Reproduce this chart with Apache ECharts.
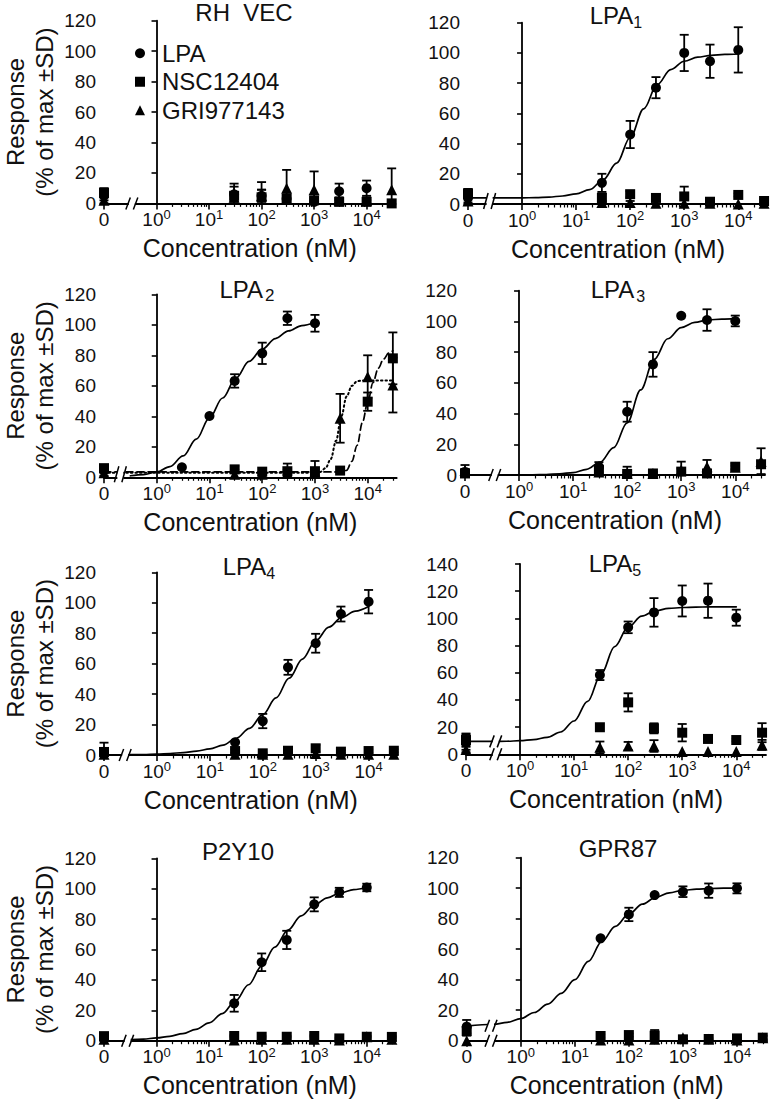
<!DOCTYPE html>
<html><head><meta charset="utf-8">
<script src="https://cdn.jsdelivr.net/npm/echarts@6/dist/echarts.min.js"></script>
<style>html,body{margin:0;padding:0;background:#fff}#c{width:775px;height:1099px}</style>
</head><body><div id="c"></div>
<script>
// ---------- DATA ----------
// concentrations (nM); 0 = vehicle point, drawn left of the axis break
const CONC_LPA = [0, 30, 100, 300, 1000, 3000, 10000];
const CONC_LPA_LPA2 = [0, 3, 10, 30, 100, 300, 1000];
const CONC_ANT = [0, 30, 100, 300, 1000, 3000, 10000, 30000];
const X_TICK_EXP = [0, 1, 2, 3, 4];          // 10^0 ... 10^4
const SERIES_NAMES = ['LPA', 'NSC12404', 'GRI977143'];
const PANEL_TITLES = ['RH  VEC', 'LPA1', 'LPA2', 'LPA3', 'LPA4', 'LPA5', 'P2Y10', 'GPR87'];
const Y_MAX = [120, 120, 120, 120, 120, 140, 120, 120];

const RHVEC_LPA = [5, 6, 5, 3, 1, 8, 10];
const RHVEC_LPA_SD = [3, 7, 9, 3, 2, 5, 5];
const RHVEC_NSC = [7, 5, 4, 3, 2, 1, 1, 0];
const RHVEC_NSC_SD = [3, 6, 5, 2, 2, 1, 1, 0];
const RHVEC_GRI = [2, 4, 5, 10, 9, 2, 2, 9];
const RHVEC_GRI_SD = [2, 3, 4, 12, 12, 2, 2, 14];

const LPA1_LPA = [4, 14, 46, 77, 100, 94.5, 102];
const LPA1_LPA_SD = [3, 6, 9, 7, 12, 11, 15];
const LPA1_NSC = [7, 4, 6.5, 4, 5, 1.5, 6, 2];
const LPA1_NSC_SD = [3, 3, 2, 2, 6.5, 0.5, 1, 1];
const LPA1_GRI = [2, 1, 1, 0.5, 0.5, 0.5, 0, 0.5];
const LPA1_GRI_SD = [2, 1, 1, 0, 0, 0, 0, 0];

const LPA2_LPA = [4.8, 6.6, 40.2, 63.2, 81.3, 104.3, 101];
const LPA2_LPA_SD = [2, 0, 0, 4.4, 7, 4.4, 5.5];
const LPA2_NSC = [6, 5.2, 3.7, 4, 4, 4.4, 49.6, 78];
const LPA2_NSC_SD = [2, 2.2, 0, 1, 1, 0, 6, 17];
const LPA2_GRI = [3, 2, 2, 3, 3.7, 38.7, 66, 60.5];
const LPA2_GRI_SD = [2, 3, 1, 6, 7, 16, 14, 18];

const LPA3_LPA = [2, 5.4, 41.2, 72, 103.7, 100.9, 100.3];
const LPA3_LPA_SD = [2, 3, 6.5, 8, 0, 7, 3.5];
const LPA3_NSC = [1, 3.3, 0.7, 1, 2.2, 1, 5.4, 7];
const LPA3_NSC_SD = [1, 2, 1, 1, 2, 1, 2, 2];
const LPA3_GRI = [3, 2, 1, 1, 3.3, 5.4, 5, 9];
const LPA3_GRI_SD = [3.5, 2, 4.4, 1, 5.4, 4.4, 1, 8.4];

const LPA4_LPA = [1.1, 8.3, 22.3, 57.6, 73.4, 92.6, 100.7];
const LPA4_LPA_SD = [7, 0, 4.7, 4.9, 6.2, 4.9, 7.7];
const LPA4_NSC = [2, 2.6, 1.1, 2.8, 4.4, 2.2, 2.6, 2.8];
const LPA4_NSC_SD = [1, 1, 0.5, 1, 2.2, 1, 1, 1];
const LPA4_GRI = [0.5, 0.5, 0.5, 0.5, 1, 0.5, 0.5, 0.5];
const LPA4_GRI_SD = [0, 0, 0, 0, 0, 0, 0, 0];

const LPA5_LPA = [9.3, 58.3, 93.4, 104.4, 112.8, 113, 100.5];
const LPA5_LPA_SD = [6, 3.7, 4.3, 10.5, 11.4, 12.6, 5.9];
const LPA5_NSC = [10.5, 19.9, 38.2, 19.1, 15.9, 11.3, 10.5, 15.9];
const LPA5_NSC_SD = [4, 0, 6.7, 3.7, 6.4, 2, 1, 7];
const LPA5_GRI = [3.5, 5.1, 6.1, 6.1, 2, 2, 2, 6.9];
const LPA5_GRI_SD = [2, 4.3, 3, 4.3, 0, 0, 0, 3.7];

const P2Y10_LPA = [1, 24.6, 51.6, 66.3, 89.7, 97.6, 100.8];
const P2Y10_LPA_SD = [1, 5.5, 5.8, 6, 4.6, 3, 2.5];
const P2Y10_NSC = [3, 3.1, 2.6, 2.6, 3.1, 1.5, 2.6, 2.5];
const P2Y10_NSC_SD = [1, 0.5, 0.5, 0.5, 0.5, 0.5, 0.5, 0.5];
const P2Y10_GRI = [1, 0.5, 1, 1, 1, 0.5, 2.6, 1];
const P2Y10_GRI_SD = [0, 0, 0, 0, 0, 0, 0, 0];

const GPR87_LPA = [9.2, 67.1, 82.8, 95.5, 97.7, 98.4, 99.9];
const GPR87_LPA_SD = [4.4, 0, 4.4, 0, 3.5, 4.7, 3.3];
const GPR87_NSC = [6.3, 3.1, 3.7, 3.3, 0.9, 1.1, 1.5, 2];
const GPR87_NSC_SD = [3, 1, 1, 3.7, 0.5, 0.5, 0.5, 1];
const GPR87_GRI = [0, 0.5, 0.5, 1, 2, 1, 0.5, 2];
const GPR87_GRI_SD = [0, 0, 0, 0, 1, 0, 0, 1.5];

const FIT_LOGX = [-0.5, -0.25, 0, 0.25, 0.5, 0.75, 1, 1.25, 1.5, 1.75, 2, 2.25, 2.5, 2.75, 3, 3.25, 3.5, 3.75, 4];
const LPA1_FIT = [4, 4, 4.1, 4.2, 4.6, 5.3, 6.7, 9.5, 16, 27, 44, 63, 79, 89, 94.5, 97.2, 98.4, 99, 99.3];
const LPA1_FIT_AT_ZERO = 4;
const LPA2_FIT = [1, 1.8, 3.5, 7, 14, 25, 39, 52, 65, 76, 84, 91, 96, 99.5, 101.5, null, null, null, null];
const LPA3_FIT = [0, 0, 0, 0.1, 0.3, 0.8, 1.6, 3.7, 8.4, 17.8, 34, 55.4, 75.3, 88.7, 96, 99.4, 101, 101.5, 101.8];
const LPA4_FIT = [0.2, 0.3, 0.6, 1, 1.6, 2.6, 4, 6.5, 11, 17.5, 26.5, 37.5, 50.5, 63, 75, 84, 90.5, 94.5, 97.5];
const LPA5_FIT = [9.5, 9.6, 10, 10.8, 12.5, 16.4, 24.5, 38.9, 59, 79.2, 93.5, 101.6, 105.5, 107.3, 108, 108.3, 108.4, 108.5, 108.5];
const LPA5_FIT_AT_ZERO = 9.5;
const P2Y10_FIT = [0.7, 1.1, 1.8, 2.9, 4.7, 7.5, 11.7, 17.8, 26.1, 36.8, 49, 61.5, 72.7, 82.1, 89.2, 94, 97.3, 99.4, 100.8];
const GPR87_FIT = [10.8, 12, 14.5, 18.5, 24, 31, 40, 52, 65, 75, 83, 89.5, 94, 97, 98.6, 99.4, 99.8, 100, 100.2];
const GPR87_FIT_AT_ZERO = 9.6;
const ANT_FIT_LOGX = [0, 1, 2, 3, 3.1, 3.2, 3.3, 3.4, 3.5, 3.6, 3.7, 3.8, 3.9, 4, 4.1, 4.2, 4.3, 4.4, 4.477];
const LPA2_NSC_FIT = [3.5, 3.5, 3.5, 3.5, 3.5, 3.5, 3.5, 3.5, 3.5, 4.5, 10.5, 21, 36, 49, 62, 71.5, 77.5, 81.5, 83];
const LPA2_NSC_FIT_AT_ZERO = 3.5;
const LPA2_GRI_FIT = [3, 3, 3, 3, 3.5, 6, 12, 24, 40, 53, 60, 63, 63.5, 63.5, 63.5, 63.5, 63.5, 63.5, 63.5];
const LPA2_GRI_FIT_AT_ZERO = 3;

// ---------- LAYOUT (positions / styles only) ----------
const ZERO_POS = -1;   // axis position used for the "0" (vehicle) concentration
const X_MIN = -1, X_MAX = 4.55;
const FONT = '"Liberation Sans", Arial, sans-serif';
const LAYOUT = [
  {left: 95.5, top: 20.7, h: 182.7, brk: -0.47, marks: [[0, 6]], tx: 244, ty: 11, yName: true},
  {left: 468, top: 22.7, h: 181.3, brk: -0.6, marks: [[2, 8]], tx: 616, ty: 13},
  {left: 96.7, top: 294.3, h: 183, brk: -0.69, marks: [[2, 8]], tx: 247, ty: 289, yName: true, subGap: 2, subSize: 17},
  {left: 465, top: 290.7, h: 184.3, brk: -0.45, marks: [[0, 6]], tx: 618, ty: 289, subGap: 2},
  {left: 97.7, top: 572.3, h: 182.7, brk: -0.6, marks: [[0, 6]], tx: 249, ty: 566, yName: true},
  {left: 466, top: 564, h: 190.3, brk: -0.45, marks: [[0, 6], [9.5, 6]], tx: 615, ty: 563},
  {left: 95.7, top: 858.3, h: 182.4, brk: -0.55, marks: [[0, 6]], tx: 238, ty: 851, yName: true},
  {left: 466.7, top: 857.7, h: 183, brk: -0.55, marks: [[0, 6], [9.8, 6]], tx: 618, ty: 848}
];

const PANELS = [
  {lpaC: CONC_LPA, lpa: RHVEC_LPA, lpaSd: RHVEC_LPA_SD, nsc: RHVEC_NSC, nscSd: RHVEC_NSC_SD, gri: RHVEC_GRI, griSd: RHVEC_GRI_SD, fits: []},
  {lpaC: CONC_LPA, lpa: LPA1_LPA, lpaSd: LPA1_LPA_SD, nsc: LPA1_NSC, nscSd: LPA1_NSC_SD, gri: LPA1_GRI, griSd: LPA1_GRI_SD,
   fits: [{x: FIT_LOGX, y: LPA1_FIT, zero: LPA1_FIT_AT_ZERO, type: 'solid'}]},
  {lpaC: CONC_LPA_LPA2, lpa: LPA2_LPA, lpaSd: LPA2_LPA_SD, nsc: LPA2_NSC, nscSd: LPA2_NSC_SD, gri: LPA2_GRI, griSd: LPA2_GRI_SD,
   fits: [{x: FIT_LOGX, y: LPA2_FIT, zero: null, type: 'solid'},
          {x: ANT_FIT_LOGX, y: LPA2_NSC_FIT, zero: LPA2_NSC_FIT_AT_ZERO, type: 'dashed'},
          {x: ANT_FIT_LOGX, y: LPA2_GRI_FIT, zero: LPA2_GRI_FIT_AT_ZERO, type: 'dotted'}]},
  {lpaC: CONC_LPA, lpa: LPA3_LPA, lpaSd: LPA3_LPA_SD, nsc: LPA3_NSC, nscSd: LPA3_NSC_SD, gri: LPA3_GRI, griSd: LPA3_GRI_SD,
   fits: [{x: FIT_LOGX, y: LPA3_FIT, zero: null, type: 'solid'}]},
  {lpaC: CONC_LPA, lpa: LPA4_LPA, lpaSd: LPA4_LPA_SD, nsc: LPA4_NSC, nscSd: LPA4_NSC_SD, gri: LPA4_GRI, griSd: LPA4_GRI_SD,
   fits: [{x: FIT_LOGX, y: LPA4_FIT, zero: null, type: 'solid'}]},
  {lpaC: CONC_LPA, lpa: LPA5_LPA, lpaSd: LPA5_LPA_SD, nsc: LPA5_NSC, nscSd: LPA5_NSC_SD, gri: LPA5_GRI, griSd: LPA5_GRI_SD,
   fits: [{x: FIT_LOGX, y: LPA5_FIT, zero: LPA5_FIT_AT_ZERO, type: 'solid'}]},
  {lpaC: CONC_LPA, lpa: P2Y10_LPA, lpaSd: P2Y10_LPA_SD, nsc: P2Y10_NSC, nscSd: P2Y10_NSC_SD, gri: P2Y10_GRI, griSd: P2Y10_GRI_SD,
   fits: [{x: FIT_LOGX, y: P2Y10_FIT, zero: null, type: 'solid'}]},
  {lpaC: CONC_LPA, lpa: GPR87_LPA, lpaSd: GPR87_LPA_SD, nsc: GPR87_NSC, nscSd: GPR87_NSC_SD, gri: GPR87_GRI, griSd: GPR87_GRI_SD,
   fits: [{x: FIT_LOGX, y: GPR87_FIT, zero: GPR87_FIT_AT_ZERO, type: 'solid'}]}
];

// ---------- BUILD ----------
const toAxis = c => c === 0 ? ZERO_POS : Math.log10(c);
const MAJOR = [ZERO_POS].concat(X_TICK_EXP);
const MINOR = [];
X_TICK_EXP.forEach(n => { for (let k = 2; k <= 9; k++) { const v = n + Math.log10(k); if (v <= X_MAX) MINOR.push(v); } });

function errRender(params, api) {
  const x = api.value(0), y = api.value(1), sd = api.value(2);
  if (!(sd > 0)) return null;
  const hi = api.coord([x, y + sd]);
  const loV = y - sd;
  const lo = api.coord([x, Math.max(0, loV)]);
  const w = 4.5, st = {stroke: '#000', lineWidth: 1.8};
  const ch = [
    {type: 'line', shape: {x1: hi[0], y1: hi[1], x2: lo[0], y2: lo[1]}, style: st},
    {type: 'line', shape: {x1: hi[0] - w, y1: hi[1], x2: hi[0] + w, y2: hi[1]}, style: st}
  ];
  if (loV >= 0) ch.push({type: 'line', shape: {x1: lo[0] - w, y1: lo[1], x2: lo[0] + w, y2: lo[1]}, style: st});
  return {type: 'group', children: ch};
}
function breakRender(params, api) {
  const c = api.coord([api.value(0), api.value(1)]);
  const h = api.value(2);
  const st = {stroke: '#000', lineWidth: 1.5};
  return {type: 'group', children: [
    {type: 'rect', shape: {x: c[0] - 3, y: c[1] - h, width: 6, height: 2 * h}, style: {fill: '#fff'}},
    {type: 'line', shape: {x1: c[0] - 6, y1: c[1] + h, x2: c[0] - 1.5, y2: c[1] - h}, style: st},
    {type: 'line', shape: {x1: c[0] + 1.5, y1: c[1] + h, x2: c[0] + 6, y2: c[1] - h}, style: st}
  ]};
}

const grid = [], xAxis = [], yAxis = [], series = [], graphic = [];
const SYMBOLS = ['circle', 'rect', 'triangle'];
const DASH = {solid: 'solid', dashed: [7, 4], dotted: [1.5, 3]};
const TITLE_FS = 24, TITLE_LH = 30;

PANELS.forEach((p, i) => {
  const L = LAYOUT[i];
  grid.push({left: L.left, top: L.top, width: 300, height: L.h});
  xAxis.push({
    type: 'value', gridIndex: i, min: X_MIN, max: X_MAX, position: 'bottom',
    axisLine: {show: true, onZero: false, lineStyle: {color: '#000', width: 1.8}},
    axisTick: {show: true, customValues: MAJOR, length: 6, lineStyle: {color: '#000', width: 1.6}},
    axisLabel: {
      customValues: MAJOR, margin: 5, fontSize: 19, lineHeight: 22, color: '#111', fontFamily: FONT,
      formatter: v => Math.abs(v - ZERO_POS) < 1e-9 ? '0' : '10{s|' + Math.round(v) + '}',
      rich: {s: {fontSize: 13, lineHeight: 13, verticalAlign: 'top', color: '#111', fontFamily: FONT}}
    },
    splitLine: {show: false},
    name: 'Concentration (nM)', nameLocation: 'middle', nameGap: 32,
    nameTextStyle: {fontSize: 25, color: '#111', fontFamily: FONT}
  });
  xAxis.push({
    type: 'value', gridIndex: i, min: X_MIN, max: X_MAX, position: 'bottom',
    axisLine: {show: false, onZero: false}, axisLabel: {show: false}, splitLine: {show: false},
    axisTick: {show: true, customValues: MINOR, length: 3.5, lineStyle: {color: '#000', width: 1.2}}
  });
  yAxis.push(Object.assign({
    type: 'value', gridIndex: i, min: 0, max: Y_MAX[i], interval: 20,
    axisLine: {show: true, lineStyle: {color: '#000', width: 1.8}},
    axisTick: {show: true, length: 5, lineStyle: {color: '#000', width: 1.6}},
    axisLabel: {fontSize: 19, color: '#111', fontFamily: FONT, margin: 8},
    splitLine: {show: false}
  }, L.yName ? {
    name: 'Response\n(% of max \u00b1SD)', nameLocation: 'middle', nameRotate: 90, nameGap: 45,
    nameTextStyle: {fontSize: 24, lineHeight: 29, color: '#111', fontFamily: FONT, align: 'center'}
  } : {}));

  const xi = 2 * i;
  const groups = [
    {c: p.lpaC, v: p.lpa, sd: p.lpaSd},
    {c: CONC_ANT, v: p.nsc, sd: p.nscSd},
    {c: CONC_ANT, v: p.gri, sd: p.griSd}
  ];
  p.fits.forEach(f => {
    const d = f.x.map((x, k) => [x, f.y[k]]);
    if (f.zero !== null) d.unshift([ZERO_POS, f.zero]);
    series.push({
      type: 'line', name: 'fit', xAxisIndex: xi, yAxisIndex: i, data: d, symbol: 'none',
      smooth: 0.35, smoothMonotone: 'x', connectNulls: false, silent: true, z: 3,
      lineStyle: {color: '#000', width: f.type === 'dotted' ? 2 : 1.7, type: DASH[f.type], cap: 'round'}
    });
  });
  groups.forEach((g, s) => {
    series.push({
      type: 'custom', name: 'err-' + SERIES_NAMES[s], xAxisIndex: xi, yAxisIndex: i, z: 4, silent: true,
      renderItem: errRender, data: g.c.map((c, k) => [toAxis(c), g.v[k], g.sd[k]])
    });
  });
  groups.forEach((g, s) => {
    series.push({
      type: 'scatter', name: SERIES_NAMES[s], xAxisIndex: xi, yAxisIndex: i, z: 5,
      symbol: SYMBOLS[s], symbolSize: s === 2 ? 11 : 10, itemStyle: {color: '#000', opacity: 1},
      data: g.c.map((c, k) => [toAxis(c), g.v[k]])
    });
  });
  series.push({
    type: 'custom', name: 'break', xAxisIndex: xi, yAxisIndex: i, z: 10, silent: true,
    renderItem: breakRender, data: L.marks.map(m => [L.brk, m[0], m[1]])
  });

  // panel title (box top placed so the cap centre lands on ty)
  const t = PANEL_TITLES[i];
  const m = t.match(/^LPA(\d)$/);
  const lh = m ? TITLE_LH : TITLE_FS;
  const text = m ? '{m|LPA}{s|' + m[1] + '}' : '{m|' + t + '}';
  graphic.push({
    type: 'text', x: L.tx, y: Math.max(0, L.ty - lh / 2), silent: true,
    style: {
      text: text, align: 'center', verticalAlign: 'top', fill: '#111', fontFamily: FONT, fontSize: TITLE_FS,
      rich: {
        m: {fontSize: TITLE_FS, lineHeight: lh, fontFamily: FONT, fill: '#111'},
        s: {fontSize: L.subSize || 16, lineHeight: 15, verticalAlign: 'bottom', fontFamily: FONT, fill: '#111',
            padding: [0, 0, 0, L.subGap || 0]}
      }
    }
  });
});

const chart = echarts.init(document.getElementById('c'), null, {renderer: 'svg', width: 775, height: 1099});
chart.setOption({
  backgroundColor: '#fff',
  animation: false,
  grid, xAxis, yAxis, series, graphic,
  legend: {
    show: true, orient: 'vertical', left: 130, top: 34, itemWidth: 10, itemHeight: 10, itemGap: 0,
    selectedMode: false,
    data: [{name: 'LPA', icon: 'circle'}, {name: 'NSC12404', icon: 'rect'}, {name: 'GRI977143', icon: 'triangle'}],
    formatter: name => '{g|}' + name,
    textStyle: {fontSize: 24, lineHeight: 28.5, color: '#111', fontFamily: FONT,
      rich: {g: {width: 12, lineHeight: 28.5}}}
  }
});
</script></body></html>
